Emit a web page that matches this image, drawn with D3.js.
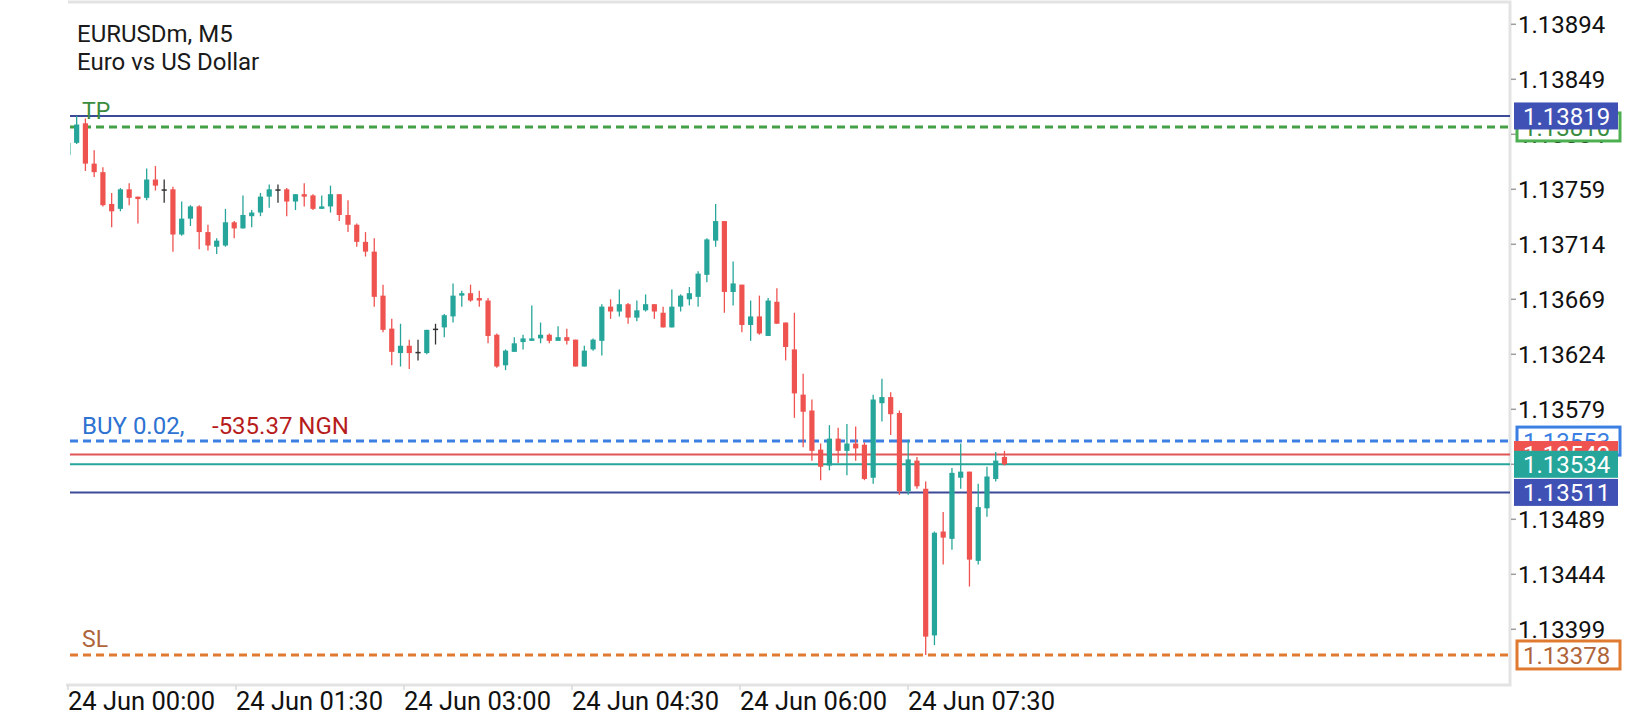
<!DOCTYPE html>
<html>
<head>
<meta charset="utf-8">
<script src="https://cdn.jsdelivr.net/npm/d3@7"></script>
<style>
  body { margin: 0; background: #fff; }
  text { font-family: Roboto, "Noto Sans", sans-serif; }
</style>
</head>
<body>
<div id="chart"></div>
<script>
var symbolName = "EURUSDm, M5";
var symbolDesc = "Euro vs US Dollar";

// candles, M5, oldest first
var opens = [1.13787,1.13797,1.13813,1.13780,1.13773,1.13747,1.13743,1.13759,1.13753,1.13752,
  1.13767,1.13759,1.13759,1.13722,1.13735,1.13745,1.13724,1.13712,1.13713,1.13732,
  1.13727,1.13737,1.13740,1.13753,1.13759,1.13759,1.13749,1.13755,1.13754,1.13743,
  1.13745,1.13755,1.13738,1.13730,1.13716,1.13708,1.13672,1.13645,1.13625,1.13631,
  1.13626,1.13625,1.13645,1.13646,1.13655,1.13672,1.13674,1.13670,1.13668,1.13640,
  1.13615,1.13626,1.13634,1.13635,1.13637,1.13640,1.13635,1.13638,1.13636,1.13614,
  1.13628,1.13635,1.13663,1.13659,1.13665,1.13654,1.13660,1.13665,1.13658,1.13646,
  1.13663,1.13669,1.13671,1.13689,1.13717,1.13733,1.13675,1.13681,1.13648,1.13655,
  1.13639,1.13667,1.13650,1.13628,1.13591,1.13578,1.13546,1.13533,1.13555,1.13545,
  1.13551,1.13550,1.13523,1.13584,1.13589,1.13576,1.13512,1.13537,1.13514,1.13394,
  1.13479,1.13473,1.13523,1.13528,1.13455,1.13498,1.13522,1.13540];
var highs = [1.13799,1.13819,1.13817,1.13791,1.13777,1.13756,1.13760,1.13764,1.13753,1.13776,
  1.13778,1.13767,1.13761,1.13749,1.13746,1.13746,1.13730,1.13719,1.13743,1.13733,
  1.13754,1.13742,1.13756,1.13763,1.13763,1.13760,1.13755,1.13764,1.13755,1.13754,
  1.13762,1.13755,1.13750,1.13731,1.13724,1.13719,1.13681,1.13653,1.13649,1.13636,
  1.13636,1.13644,1.13649,1.13657,1.13682,1.13676,1.13681,1.13676,1.13670,1.13641,
  1.13628,1.13638,1.13640,1.13664,1.13650,1.13641,1.13647,1.13645,1.13636,1.13631,
  1.13637,1.13665,1.13669,1.13677,1.13666,1.13668,1.13673,1.13665,1.13663,1.13677,
  1.13673,1.13679,1.13692,1.13719,1.13747,1.13733,1.13700,1.13681,1.13668,1.13672,
  1.13670,1.13678,1.13650,1.13658,1.13608,1.13587,1.13551,1.13566,1.13564,1.13567,
  1.13565,1.13552,1.13591,1.13604,1.13593,1.13578,1.13554,1.13540,1.13520,1.13479,
  1.13495,1.13531,1.13551,1.13528,1.13518,1.13532,1.13544,1.13545];
var lows = [1.13785,1.13796,1.13774,1.13769,1.13745,1.13728,1.13741,1.13746,1.13731,1.13750,
  1.13758,1.13748,1.13708,1.13721,1.13729,1.13710,1.13709,1.13706,1.13712,1.13719,
  1.13727,1.13728,1.13737,1.13744,1.13748,1.13737,1.13742,1.13745,1.13742,1.13743,
  1.13740,1.13733,1.13724,1.13712,1.13704,1.13663,1.13642,1.13615,1.13614,1.13612,
  1.13619,1.13624,1.13632,1.13638,1.13650,1.13663,1.13667,1.13663,1.13633,1.13613,
  1.13611,1.13626,1.13628,1.13635,1.13633,1.13633,1.13635,1.13632,1.13614,1.13614,
  1.13627,1.13623,1.13653,1.13655,1.13649,1.13651,1.13659,1.13653,1.13646,1.13646,
  1.13659,1.13664,1.13663,1.13683,1.13712,1.13658,1.13664,1.13642,1.13635,1.13640,
  1.13639,1.13649,1.13619,1.13572,1.13548,1.13537,1.13521,1.13529,1.13535,1.13525,
  1.13537,1.13521,1.13518,1.13569,1.13558,1.13509,1.13509,1.13514,1.13378,1.13386,
  1.13452,1.13464,1.13514,1.13434,1.13452,1.13491,1.13520,1.13533];
var closes = [1.13797,1.13812,1.13780,1.13773,1.13746,1.13741,1.13759,1.13752,1.13751,1.13767,
  1.13762,1.13759,1.13722,1.13735,1.13745,1.13724,1.13713,1.13717,1.13732,1.13727,
  1.13738,1.13740,1.13753,1.13759,1.13759,1.13749,1.13755,1.13753,1.13743,1.13745,
  1.13755,1.13738,1.13730,1.13716,1.13708,1.13671,1.13644,1.13626,1.13631,1.13625,
  1.13626,1.13644,1.13645,1.13656,1.13672,1.13674,1.13668,1.13668,1.13639,1.13614,
  1.13627,1.13633,1.13637,1.13637,1.13640,1.13635,1.13638,1.13635,1.13614,1.13627,
  1.13636,1.13663,1.13659,1.13665,1.13654,1.13660,1.13665,1.13659,1.13646,1.13663,
  1.13672,1.13674,1.13690,1.13718,1.13733,1.13675,1.13682,1.13648,1.13655,1.13641,
  1.13668,1.13649,1.13630,1.13592,1.13577,1.13545,1.13532,1.13555,1.13545,1.13551,
  1.13547,1.13522,1.13587,1.13589,1.13575,1.13512,1.13538,1.13516,1.13393,1.13478,
  1.13474,1.13527,1.13528,1.13456,1.13499,1.13524,1.13537,1.13534];

var priceTicks = ["1.13894","1.13849","1.13804","1.13759","1.13714","1.13669",
  "1.13624","1.13579","1.13534","1.13489","1.13444","1.13399"];
var timeLabels = ["24 Jun 00:00","24 Jun 01:30","24 Jun 03:00","24 Jun 04:30","24 Jun 06:00","24 Jun 07:30"];

// trade levels
var tpPrice = 1.13810, slPrice = 1.13378, openPrice = 1.13553;
var bidPrice = 1.13534, askPrice = 1.13542;
var upperLine = 1.13819, lowerLine = 1.13511;
var orderText = "BUY 0.02,", profitText = "-535.37 NGN";

var W = 1640, H = 720;
var plotLeft = 70, plotRight = 1510, plotTop = 2, plotBottom = 685;
var up = "#26a69a", down = "#ef5350", doji = "#333333";

var svg = d3.select("#chart").append("svg")
  .attr("width", W).attr("height", H)
  .style("background", "#fff");

var y = d3.scaleLinear()
  .domain([+priceTicks[priceTicks.length - 1], +priceTicks[0]])
  .range([629.3, 24.3]);

var x = d3.scaleLinear()
  .domain([0, opens.length - 1])
  .range([67.9, 67.9 + (opens.length - 1) * 8.753]);

var xLab = d3.scalePoint().domain(timeLabels).range([68, 908]);

svg.append("clipPath").attr("id", "plotclip")
  .append("rect").attr("x", plotLeft).attr("y", plotTop)
  .attr("width", plotRight - plotLeft).attr("height", plotBottom - plotTop);

// frame
svg.append("path")
  .attr("d", "M" + (plotLeft - 2) + "," + plotTop + "H" + plotRight + "V" + plotBottom + "H" + (plotLeft - 4))
  .attr("fill", "none").attr("stroke", "#e3e3e3").attr("stroke-width", 3);

// price axis
var yAxis = svg.append("g");
yAxis.selectAll("line").data(priceTicks).enter().append("line")
  .attr("x1", plotRight + 1).attr("x2", plotRight + 6)
  .attr("y1", function(d) { return y(+d); }).attr("y2", function(d) { return y(+d); })
  .attr("stroke", "#9e9e9e").attr("stroke-width", 1.5);
yAxis.selectAll("text").data(priceTicks).enter().append("text")
  .attr("x", 1518).attr("y", function(d) { return y(+d); })
  .attr("dy", "0.36em")
  .style("font-size", "24px").style("fill", "#111")
  .text(function(d) { return d; });

// time axis
var xAxis = svg.append("g");
xAxis.selectAll("line").data(timeLabels).enter().append("line")
  .attr("x1", function(d) { return xLab(d); }).attr("x2", function(d) { return xLab(d); })
  .attr("y1", plotBottom).attr("y2", plotBottom + 5)
  .attr("stroke", "#d8d8d8").attr("stroke-width", 1.5);
xAxis.selectAll("text").data(timeLabels).enter().append("text")
  .attr("x", function(d) { return xLab(d); }).attr("y", 710)
  .style("font-size", "25.5px").style("fill", "#111")
  .text(function(d) { return d; });

// title
svg.append("text").attr("x", 77).attr("y", 42)
  .style("font-size", "24px").style("fill", "#1a1a1a").text(symbolName);
svg.append("text").attr("x", 77).attr("y", 70)
  .style("font-size", "24px").style("fill", "#1a1a1a").text(symbolDesc);

// horizontal levels
var lv = svg.append("g");
function hline(price, color, width, dash) {
  lv.append("line")
    .attr("x1", plotLeft).attr("x2", plotRight)
    .attr("y1", y(price)).attr("y2", y(price))
    .attr("stroke", color).attr("stroke-width", width)
    .attr("stroke-dasharray", dash || null);
}
hline(upperLine, "#3d4a97", 2);
hline(tpPrice, "#43a047", 3, "8,5");
hline(openPrice, "#3b7fe3", 3, "8,5");
hline(askPrice, "#e05555", 2);
hline(bidPrice, "#26a69a", 2);
hline(lowerLine, "#3d4a97", 2);
hline(slPrice, "#e07a30", 3, "8,5");

lv.append("text").attr("x", 82).attr("y", 119)
  .style("font-size", "23px").style("fill", "#3b8c3f").text("TP");
lv.append("text").attr("x", 82).attr("y", 647)
  .style("font-size", "23px").style("fill", "#b0643a").text("SL");
lv.append("text").attr("x", 82).attr("y", 434)
  .style("font-size", "24px").style("fill", "#2e72d2").text(orderText);
lv.append("text").attr("x", 212).attr("y", 434)
  .style("font-size", "24px").style("fill", "#b71c1c").text(profitText);

// candles
var idx = d3.range(opens.length);
var cg = svg.append("g").attr("clip-path", "url(#plotclip)");
function colorOf(i) {
  if (closes[i] > opens[i]) return up;
  if (closes[i] < opens[i]) return down;
  return doji;
}
cg.selectAll("line.wick").data(idx).enter().append("line")
  .attr("class", "wick")
  .attr("x1", function(i) { return x(i); }).attr("x2", function(i) { return x(i); })
  .attr("y1", function(i) { return y(highs[i]); }).attr("y2", function(i) { return y(lows[i]); })
  .attr("stroke", colorOf).attr("stroke-width", 1.3);
cg.selectAll("rect.body").data(idx).enter().append("rect")
  .attr("class", "body")
  .attr("x", function(i) { return x(i) - 2.6; })
  .attr("width", 5.2)
  .attr("y", function(i) { return y(Math.max(opens[i], closes[i])); })
  .attr("height", function(i) { return Math.max(1.5, Math.abs(y(opens[i]) - y(closes[i]))); })
  .attr("fill", colorOf);

// price tags on the right
var tags = svg.append("g");
function outlineTag(price, color, textColor) {
  tags.append("rect").attr("x", 1517).attr("y", y(price) - 14)
    .attr("width", 103).attr("height", 28)
    .attr("fill", "#fff").attr("stroke", color).attr("stroke-width", 3);
  tags.append("text").attr("x", 1523).attr("y", y(price)).attr("dy", "0.36em")
    .style("font-size", "24px").style("fill", textColor).text(price.toFixed(5));
}
function filledTag(price, color) {
  tags.append("rect").attr("x", 1514).attr("y", y(price) - 13.5)
    .attr("width", 104).attr("height", 27).attr("fill", color);
  tags.append("text").attr("x", 1523).attr("y", y(price)).attr("dy", "0.36em")
    .style("font-size", "24px").style("fill", "#fff").text(price.toFixed(5));
}
outlineTag(tpPrice, "#4caf50", "#3b8c3f");
filledTag(upperLine, "#3f51b5");
outlineTag(openPrice, "#3b7fe3", "#3b7fe3");
filledTag(askPrice, "#ef5350");
filledTag(bidPrice, "#26a69a");
filledTag(lowerLine, "#3f51b5");
outlineTag(slPrice, "#e07a30", "#b0643a");
</script>
</body>
</html>
